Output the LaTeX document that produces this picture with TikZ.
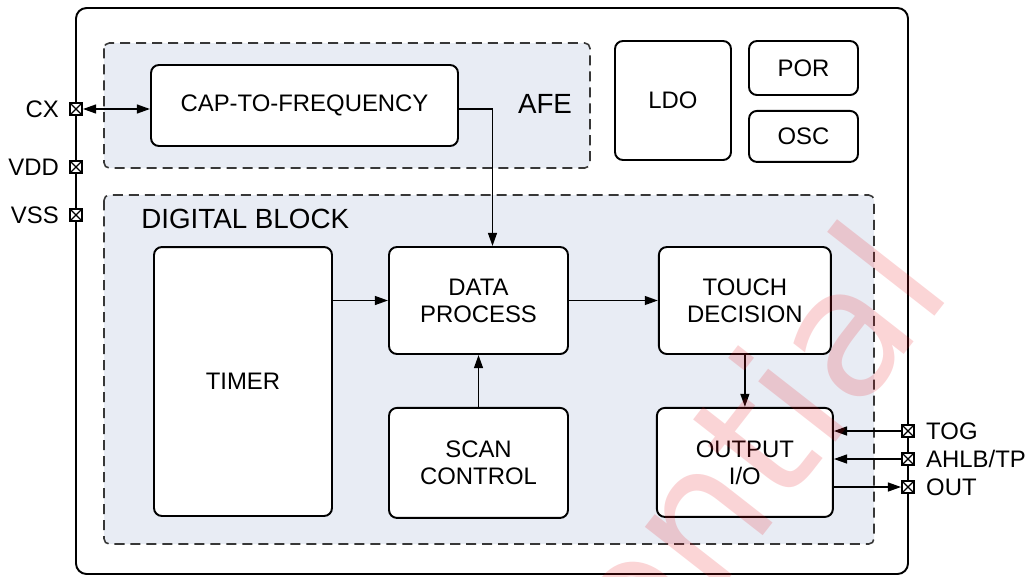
\documentclass[tikz,border=0pt]{standalone}
\usepackage{fontspec}
\setmainfont{Liberation Sans}
\newfontfamily\stampfont{DejaVu Sans}
\usetikzlibrary{arrows.meta}
\usetikzlibrary{positioning}

\definecolor{regionfill}{RGB}{232,236,244}
\definecolor{dashgray}{RGB}{55,55,55}
\definecolor{stampred}{RGB}{232,20,30}

\begin{document}
\begin{tikzpicture}[
    x=0.02cm, y=-0.02cm,
    font=\fontsize{13.6}{15.4}\selectfont,
    block/.style={draw, line width=1.1pt, rounded corners=4.5pt, fill=white, align=center, inner sep=0pt},
    region/.style={draw=dashgray, line width=0.9pt, dash pattern=on 5.7pt off 3.4pt, rounded corners=3pt, fill=regionfill},
    chippin/.style={draw, fill=white, line width=1pt, minimum size=0.24cm, inner sep=0pt,
        path picture={\draw[line width=0.7pt] (path picture bounding box.north west) -- (path picture bounding box.south east)
            (path picture bounding box.south west) -- (path picture bounding box.north east);}},
    pinlabel/.style={inner sep=0pt},
    biglabel/.style={font=\fontsize{15.8}{18}\selectfont, inner sep=0pt},
    arr/.style={-{Triangle[length=7.5pt,width=5pt]}, line width=1.1pt},
    biarr/.style={{Triangle[length=7.5pt,width=5pt]}-{Triangle[length=7.5pt,width=5pt]}, line width=1.1pt},
 ]
    \useasboundingbox (0,0) rectangle (1027,576);

    % package outline and the two dashed areas
    \draw[line width=1.1pt, rounded corners=6pt] (76,8) rectangle (908,574);
    \draw[region] (104,43) rectangle (590,168);
    \draw[region] (104,195) rectangle (874,544);
    \node[biglabel] (afe) at (545,104) {AFE};
    \node[biglabel, anchor=west] (digital) at (141,219) {DIGITAL BLOCK};

    % analog front end and supply blocks
    \node[block, minimum width=6.14cm, minimum height=1.62cm] (cap) at (304.5,105.5) {CAP-TO-FREQUENCY};
    \node[block, minimum width=2.32cm, minimum height=2.38cm] (ldo) at (673,100.5) {LDO};
    \node[block, minimum width=2.18cm, minimum height=1.08cm] (por) at (803.5,68) {POR};
    \node[block, minimum width=2.18cm, minimum height=1.02cm, below=0.28cm of por] (osc) {OSC};

    % digital part
    \node[block, minimum width=3.56cm, minimum height=5.38cm] (timer) at (243,381.5) {TIMER};
    \node[block, minimum width=3.58cm, minimum height=2.14cm] (data) at (478.5,300.5) {DATA\\PROCESS};
    \node[block, minimum width=3.44cm, minimum height=2.14cm, right=1.78cm of data] (touch) {TOUCH\\DECISION};
    \node[block, minimum width=3.58cm, minimum height=2.20cm, below=1.04cm of data] (scan) {SCAN\\CONTROL};
    \node[block, minimum width=3.52cm, minimum height=2.18cm, below=1.04cm of touch] (output) {OUTPUT\\I/O};

    % pins
    \node[chippin] (pinCX) at (76,109) {};
    \node[chippin] (pinVDD) at (76,167) {};
    \node[chippin] (pinVSS) at (76,215) {};
    \node[chippin] (pinTOG) at (908,431) {};
    \node[chippin] (pinAHLB) at (908,459) {};
    \node[chippin] (pinOUT) at (908,487) {};
    \node[pinlabel, left=0.2cm of pinCX] (lblCX) {CX};
    \node[pinlabel, left=0.2cm of pinVDD] (lblVDD) {VDD};
    \node[pinlabel, left=0.2cm of pinVSS] (lblVSS) {VSS};
    \node[pinlabel, right=0.22cm of pinTOG] (lblTOG) {TOG};
    \node[pinlabel, right=0.22cm of pinAHLB] (lblAHLB) {AHLB/TP};
    \node[pinlabel, right=0.22cm of pinOUT] (lblOUT) {OUT};

    % signal flow
    \draw[biarr] (pinCX.east) -- (pinCX -| cap.west);
    \draw[arr] (cap.east |- pinCX) -| ([xshift=0.28cm]data.north);
    \draw[arr] (timer.east |- data.west) -- (data.west);
    \draw[arr] (data.east) -- (touch.west);
    \draw[arr] (scan.north) -- (data.south);
    \draw[arr] (touch.south) -- (output.north);
    \draw[arr] (pinTOG.west) -- (pinTOG -| output.east);
    \draw[arr] (pinAHLB.west) -- (pinAHLB -| output.east);
    \draw[arr] (pinOUT -| output.east) -- (pinOUT.west);

    \node[rotate=52, anchor=base east, text=stampred, opacity=0.18, inner sep=0pt,
        font=\stampfont\fontsize{102}{102}\selectfont] (stamp) at (955,290) {Confidential};
\end{tikzpicture}
\end{document}
